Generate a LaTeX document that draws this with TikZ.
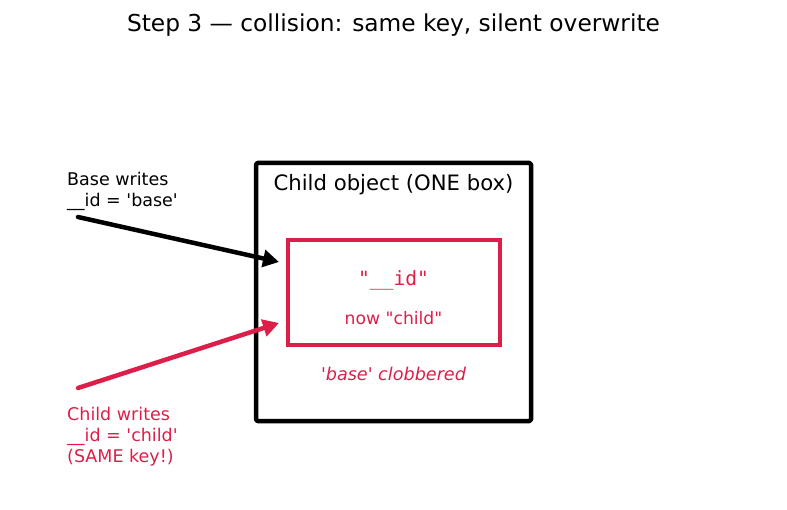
\documentclass[tikz,border=0pt]{standalone}
\usepackage{fontspec}
\setmainfont{DejaVu Sans}[Ligatures=ResetAll]
\setmonofont{DejaVu Sans Mono}[Ligatures=ResetAll]
\usetikzlibrary{arrows.meta}
\definecolor{crim}{RGB}{220,30,72}
\tikzset{
  lbl/.style={anchor=north west, align=left, inner sep=0pt, font=\fontsize{17.5}{21}\selectfont},
  arr/.style={line width=4.5pt, -{Triangle[length=16pt,width=17pt]}, shorten >=0pt},
}
\begin{document}
\begin{tikzpicture}[x=1pt,y=-1pt]
\useasboundingbox (0,0) rectangle (787,510);
\node[font=\fontsize{23.3}{28}\selectfont, inner sep=0pt] (title) at (393.5,25) {Step 3 — collision: same key, silent overwrite};
\node[draw=black, line width=4.5pt, line join=round, rounded corners=1.5pt, minimum width=275pt, minimum height=258pt, inner sep=0pt] (outer) at (393.5,292) {};
\node[font=\fontsize{21.2}{24}\selectfont, inner sep=0pt] (otitle) at (393.5,185) {Child object (ONE box)};
\node[draw=crim, line width=4pt, minimum width=212pt, minimum height=105pt, inner sep=0pt] (inner) at (394,292.5) {};
\node[text=crim, font=\ttfamily\fontsize{19.6}{22}\selectfont, inner sep=0pt] (key) at (393.5,280) {\textquotedbl\_\_id\textquotedbl};
\node[text=crim, font=\fontsize{17.2}{20}\selectfont, inner sep=0pt] (now) at (393.5,318.5) {now \textquotedbl child\textquotedbl};
\node[text=crim, font=\itshape\fontsize{17.6}{20}\selectfont, inner sep=0pt] (clob) at (393.5,373.5) {\textquotesingle base\textquotesingle{} clobbered};
\node[lbl] (base) at (67,172.5) {Base writes\\\_\_id = \textquotesingle base\textquotesingle};
\node[lbl, text=crim] (child) at (67,407) {Child writes\\\_\_id = \textquotesingle child\textquotesingle\\(SAME key!)};
\coordinate (bs) at (78,217);
\coordinate (be) at (279,262);
\coordinate (cs) at (78,388);
\coordinate (ce) at (279,323);
\draw[arr, draw=black, fill=black, line cap=round] (bs) -- (be);
\draw[arr, draw=crim, fill=crim, line cap=round] (cs) -- (ce);
\end{tikzpicture}
\end{document}
